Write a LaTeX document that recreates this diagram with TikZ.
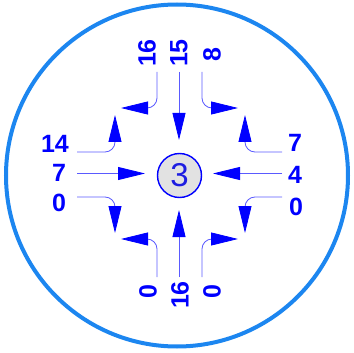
\documentclass[tikz,border=0pt]{standalone}
\usepackage{fontspec}
\setmainfont{Liberation Sans}
\usetikzlibrary{arrows.meta}
\definecolor{ringblue}{RGB}{28,134,240}
\definecolor{arrblue}{RGB}{0,0,255}
\definecolor{lineblue}{RGB}{90,90,255}
\definecolor{numblue}{RGB}{30,30,225}
\definecolor{nodegray}{RGB}{226,226,226}
\tikzset{
  lbl/.style={text=arrblue, font=\fontsize{25}{25}\selectfont\bfseries, inner sep=0pt},
  lblv/.style={lbl, rotate=90},
  flow/.style={draw=lineblue, line width=0.8pt, rounded corners=10pt,
    -{Triangle[length=27pt,width=13pt,color=arrblue]}},
  hub/.style={circle, draw=arrblue, line width=1.4pt, fill=nodegray,
    minimum size=44pt, inner sep=0pt, text=numblue, font=\fontsize{33}{33}\selectfont}
}
\begin{document}
\begin{tikzpicture}[x=1pt,y=-1pt]
\useasboundingbox (0,0) rectangle (354,353);
\draw[ringblue, line width=4pt] (177,175.5) circle[radius=171];
\node[hub] (n3) at (179.5,175.5) {3};
% top
\node[lblv] (t16) at (147,53) {16};
\node[lblv] (t15) at (179,53) {15};
\node[lblv] (t8) at (212,55) {8};
\coordinate (t16s) at (157,72); \coordinate (t16e) at (121,108);
\coordinate (t15s) at (179,72); \coordinate (t15e) at (179,140);
\coordinate (t8s) at (202,72);  \coordinate (t8e) at (238,108);
\draw[flow] (t16s) |- (t16e);
\draw[flow] (t15s) -- (t15e);
\draw[flow] (t8s) |- (t8e);
% left
\node[lbl] (l14) at (55,144) {14};
\node[lbl] (l7) at (59,172.5) {7};
\node[lbl] (l0) at (59,203) {0};
\coordinate (l14s) at (77,152); \coordinate (l14e) at (115,115);
\coordinate (l7s) at (77,173.5); \coordinate (l7e) at (145,173.5);
\coordinate (l0s) at (77,197);  \coordinate (l0e) at (115,233);
\draw[flow] (l14s) -| (l14e);
\draw[flow] (l7s) -- (l7e);
\draw[flow] (l0s) -| (l0e);
% right
\node[lbl] (r7) at (295,143) {7};
\node[lbl] (r4) at (295,175) {4};
\node[lbl] (r0) at (296,207) {0};
\coordinate (r7s) at (282,152); \coordinate (r7e) at (245,115);
\coordinate (r4s) at (282,173.5); \coordinate (r4e) at (213,173.5);
\coordinate (r0s) at (282,197); \coordinate (r0e) at (245,233);
\draw[flow] (r7s) -| (r7e);
\draw[flow] (r4s) -- (r4e);
\draw[flow] (r0s) -| (r0e);
% bottom
\node[lblv] (b0a) at (148,292) {0};
\node[lblv] (b16) at (180,295) {16};
\node[lblv] (b0b) at (212,292) {0};
\coordinate (b0as) at (157,277); \coordinate (b0ae) at (121,239);
\coordinate (b16s) at (179,277); \coordinate (b16e) at (179,210);
\coordinate (b0bs) at (202,277); \coordinate (b0be) at (238,239);
\draw[flow] (b0as) |- (b0ae);
\draw[flow] (b16s) -- (b16e);
\draw[flow] (b0bs) |- (b0be);
\end{tikzpicture}
\end{document}
